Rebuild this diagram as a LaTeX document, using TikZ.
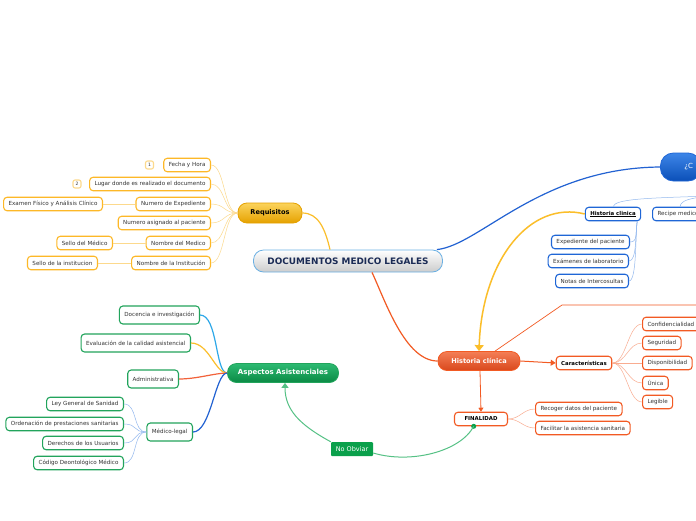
\documentclass[tikz,border=0pt]{standalone}
\usepackage{fontspec}
\setmainfont{DejaVu Sans}
\usetikzlibrary{arrows.meta}

\definecolor{docfg}{HTML}{1B2B55}
\definecolor{docedge}{HTML}{6BB0E3}
\definecolor{reqtop}{HTML}{FBD35C}
\definecolor{reqbot}{HTML}{E5A100}
\definecolor{reqedge}{HTML}{FDB827}
\definecolor{reqlight}{HTML}{FCD98C}
\definecolor{blutop}{HTML}{3D86E8}
\definecolor{blubot}{HTML}{0B4FB8}
\definecolor{bluedge}{HTML}{1F66D6}
\definecolor{blulight}{HTML}{94B9EE}
\definecolor{histtop}{HTML}{F47E55}
\definecolor{histbot}{HTML}{D9481C}
\definecolor{histedge}{HTML}{F25A23}
\definecolor{histlight}{HTML}{F9AC90}
\definecolor{asptop}{HTML}{2DBA72}
\definecolor{aspbot}{HTML}{0A8A44}
\definecolor{aspedge}{HTML}{22A45C}
\definecolor{grnline}{HTML}{55C185}
\definecolor{nobfill}{HTML}{0AA04B}
\definecolor{cyanl}{HTML}{2EA8E8}
\definecolor{yellc}{HTML}{FBBE2A}
\definecolor{redl}{HTML}{F2623A}
\definecolor{bluel}{HTML}{2262D2}

\begin{document}
\begin{tikzpicture}[x=1pt, y=-1pt,
    leaf/.style={draw=#1, line width=1.1pt, rounded corners=3.5pt, fill=white,
      font=\fontsize{5.6}{6.5}\selectfont, text=black!80, inner xsep=5pt,
      inner ysep=0pt, minimum height=13.5pt},
    main/.style n args={3}{rounded corners=9pt, top color=#1, bottom color=#2,
      draw=#3, line width=.8pt, font=\bfseries\fontsize{6.6}{8}\selectfont,
      inner xsep=8pt, minimum height=19pt},
    link/.style={draw=#1, line width=.5pt},
    branch/.style={draw=#1, line width=1.2pt}]
  \useasboundingbox (0,0) rectangle (696,520);
  \fill[white] (0,0) rectangle (696,520);
  \clip (0,0) rectangle (696,520);

  % centre
  \node[main={white}{black!20}{docedge}, text=docfg, rounded corners=10pt,
    font=\bfseries\fontsize{8.9}{10}\selectfont, minimum width=189pt,
    minimum height=22pt] (doc) at (348,261) {DOCUMENTOS MEDICO LEGALES};

  % requisitos
  \node[main={reqtop}{reqbot}{reqbot}, minimum width=64pt, minimum height=20pt]
    (req) at (270,213) {Requisitos};
  \draw[branch=yellc] ([xshift=-18pt]doc.north) .. controls (325,228) and (318,213) .. (req.east);
  \foreach \n/\y/\txt in {r1/165/Fecha y Hora, r2/184/Lugar donde es realizado el documento,
      r3/204/Numero de Expediente, r4/223/Numero asignado al paciente,
      r5/243/Nombre del Medico, r6/263/Nombre de la Institución} {
    \node[leaf=reqedge, anchor=east] (\n) at (211,\y) {\txt};
    \draw[link=reqlight] (req.west) .. controls +(-14,0) and +(14,0) .. (\n.east);
  }
  \node[leaf=reqlight, minimum height=8pt, minimum width=8pt, inner xsep=1.5pt,
    rounded corners=2pt, font=\fontsize{4.5}{5}\selectfont] (m1) at (149.5,165) {1};
  \node[leaf=reqlight, minimum height=8pt, minimum width=8pt, inner xsep=1.5pt,
    rounded corners=2pt, font=\fontsize{4.5}{5}\selectfont] (m2) at (77,184) {2};
  \node[leaf=reqedge, anchor=east] (r3s) at (103,204) {Examen Físico y Análisis Clínico};
  \node[leaf=reqedge, anchor=east] (r5s) at (113,243) {Sello del Médico};
  \node[leaf=reqedge, anchor=east] (r6s) at (98,263) {Sello de la institucion};
  \foreach \a/\b in {r3/r3s, r5/r5s, r6/r6s}
    \draw[link=reqlight] (\a.west) -- (\b.east);

  % blue branch
  \node[main={blutop}{blubot}{bluedge}, anchor=west, text=white, minimum height=28pt,
    rounded corners=13pt, font=\fontsize{7}{8}\selectfont] (blu) at (660,167)
    {\hspace{16pt}¿C\hspace{50pt}};
  \draw[branch=bluel] ([xshift=-6pt]doc.north east) .. controls (480,245) and (540,168) .. (blu.west);
  \node[leaf=bluedge, font=\bfseries\fontsize{5.4}{6.5}\selectfont, text=black]
    (hc) at (613,214) {\underline{Historia clinica}};
  \node[leaf=bluedge, anchor=west] (rec) at (652,214) {Recipe medico};
  \coordinate (bhub) at (712,196);
  \draw[link=blulight] (bhub) .. controls (645,198) and (615,199) .. (hc.north);
  \draw[link=blulight] (bhub) .. controls (690,198) and (681,200) .. ([xshift=28pt]rec.north west);
  \foreach \n/\x/\y/\txt in {e1/630/242/Expediente del paciente,
      e2/629/261/Exámenes de laboratorio, e3/629/281/Notas de Intercosultas} {
    \node[leaf=bluedge, anchor=east] (\n) at (\x,\y) {\txt};
    \draw[link=blulight] ([xshift=-4pt]hc.south east) .. controls +(-2,12) and +(8,0) .. (\n.east);
  }

  % historia clinica
  \node[main={histtop}{histbot}{histedge}, text=white, minimum width=82pt]
    (hist) at (479,361) {Historia clínica};
  \draw[branch=histedge] ([xshift=24pt]doc.south) .. controls (385,300) and (405,361) .. (hist.west);
  \draw[branch=yellc, line width=1.5pt, -{Triangle[width=9pt,length=6pt]}]
    (hc.west) .. controls (530,200) and (482,260) .. (hist.north);
  \coordinate (hoff) at (710,305);
  \draw[link=histedge, line width=.7pt] ([xshift=16pt]hist.north) -- (562,305) -- (hoff);
  \node[leaf=histedge, font=\bfseries\fontsize{5.4}{6.5}\selectfont, text=black]
    (car) at (584,363) {Características};
  \draw[link=histedge, line width=1pt, -{Triangle[width=6pt,length=5pt]}] (hist.east) -- (car.west);
  \foreach \n/\y/\txt in {c1/324/Confidencialidad, c2/343/Seguridad,
      c3/363/Disponibilidad, c4/383/Única, c5/402/Legible} {
    \node[leaf=histedge, anchor=west] (\n) at (642,\y) {\txt};
    \draw[link=histlight] (car.east) .. controls +(14,0) and +(-14,0) .. (\n.west);
  }
  \node[leaf=histedge, font=\bfseries\fontsize{5.4}{6.5}\selectfont, text=black,
    minimum width=53pt] (fin) at (481,419) {FINALIDAD};
  \draw[link=histedge, line width=.8pt, -{Triangle[width=5pt,length=4pt]}]
    ([xshift=1pt]hist.south) -- (fin.north);
  \foreach \n/\y/\txt in {f1/409/Recoger datos del paciente, f2/428/Facilitar la asistencia sanitaria} {
    \node[leaf=histedge, anchor=west] (\n) at (535,\y) {\txt};
    \draw[link=histlight] (fin.east) .. controls +(12,0) and +(-12,0) .. (\n.west);
  }

  % aspectos asistenciales
  \node[main={asptop}{aspbot}{aspedge}, text=white, minimum width=111pt,
    font=\bfseries\fontsize{7}{8}\selectfont] (asp) at (283,373) {Aspectos Asistenciales};
  \foreach \n/\x/\y/\col/\txt in {a1/200/315/cyanl/Docencia e investigación,
      a2/191/343/yellc/Evaluación de la calidad asistencial,
      a3/179/379/redl/Administrativa, a4/193/432/bluel/Médico-legal} {
    \node[leaf=aspedge, anchor=east, minimum height=18pt] (\n) at (\x,\y) {\txt};
    \draw[branch=\col] (asp.west) .. controls +(-12,0) and +(18,0) .. (\n.east);
  }
  \foreach \n/\y/\txt in {l1/404/Ley General de Sanidad, l2/424/Ordenación de prestaciones sanitarias,
      l3/443/Derechos de los Usuarios, l4/463/Código Deontológico Médico} {
    \node[leaf=aspedge, anchor=east] (\n) at (124,\y) {\txt};
    \draw[link=blulight] (a4.west) .. controls +(-14,0) and +(14,0) .. (\n.east);
  }

  % no obviar
  \node[fill=nobfill, text=white, font=\fontsize{6.5}{8}\selectfont, minimum width=42pt,
    minimum height=14pt, inner sep=1pt, rounded corners=1pt] (nob) at (352,449) {No Obviar};
  \fill[nobfill] (fin.-135) circle (2.5pt);
  \draw[link=grnline, line width=1pt] (fin.-135) .. controls (460,452) and (410,464) .. ([yshift=-4pt]nob.east);
  \draw[link=grnline, line width=1pt, -{Triangle[width=7pt,length=5pt]}]
    (nob.north west) .. controls (300,425) and (285,410) .. ([xshift=2pt]asp.south);
\end{tikzpicture}
\end{document}
